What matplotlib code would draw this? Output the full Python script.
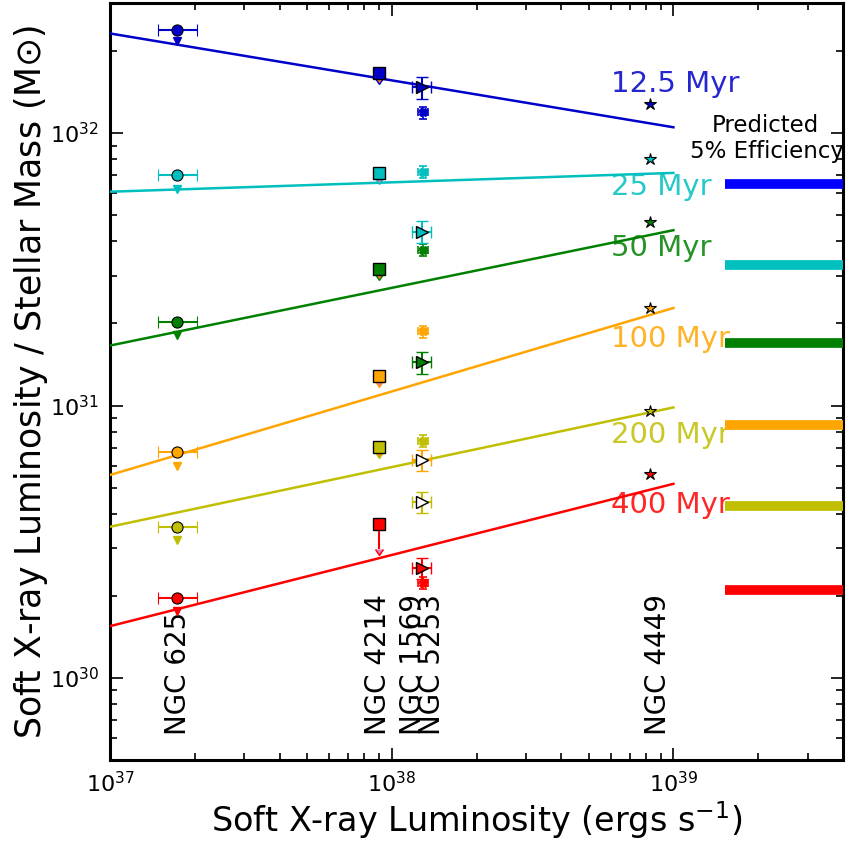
import numpy as np
import matplotlib
matplotlib.use("Agg")
import matplotlib.pyplot as plt

# Starburst ages and their colours
ages = ['12.5 Myr', '25 Myr', '50 Myr', '100 Myr', '200 Myr', '400 Myr']
colors = ['#0000c8', '#00bfbf', '#008000', '#ffa500', '#bfbf00', '#ff0000']
bar_colors = ['#0000ff', '#00bfbf', '#008000', '#ffa500', '#bfbf00', '#ff0000']

# Soft X-ray luminosities of the galaxies (erg/s)
lx_625 = 1.73e37
lx_625_err = [[0.25e37], [0.30e37]]
lx_4214 = 9.0e37
lx_1569 = 1.29e38
lx_5253 = 1.28e38
lx_5253_err = 0.10e38
lx_4449 = 8.26e38

# L_X / M_* for each age (rows follow `ages`)
ngc625 = [2.38e32, 7.0e31, 2.03e31, 6.73e30, 3.59e30, 1.96e30]
ngc625_low = [2.17e32, 6.25e31, 1.82e31, 6.0e30, 3.21e30, 1.76e30]
ngc4214 = [1.66e32, 7.14e31, 3.17e31, 1.28e31, 7.03e30, 3.67e30]
ngc4214_lim = [0.04, 0.04, 0.04, 0.04, 0.04, 0.19]
ngc1569 = [1.19e32, 7.2e31, 3.72e31, 1.87e31, 7.43e30, 2.24e30]
ngc5253 = [1.47e32, 4.35e31, 1.44e31, 6.3e30, 4.43e30, 2.53e30]
ngc5253_filled = [True, True, True, False, False, True]
ngc4449 = [1.28e32, 8.0e31, 4.72e31, 2.28e31, 9.57e30, 5.61e30]

# Power-law fits, evaluated at the ends of the fit range
fit_x = [1e37, 1e39]
fit_lo = [2.32e32, 6.09e31, 1.66e31, 5.56e30, 3.59e30, 1.55e30]
fit_hi = [1.05e32, 7.14e31, 4.4e31, 2.28e31, 9.84e30, 5.16e30]

# Predicted values at 5% efficiency
eff5 = [6.5e31, 3.27e31, 1.7e31, 8.45e30, 4.28e30, 2.11e30]
eff5_x = [1.53e39, 4e39]

# Age label positions
age_label_x = 6.0e38
age_label_y = [1.51e32, 6.35e31, 3.77e31, 1.76e31, 7.77e30, 4.3e30]

# Galaxy names
gal_names = ['NGC 625', 'NGC 4214', 'NGC 1569', 'NGC 5253', 'NGC 4449']
gal_label_x = [1.75e37, 8.96e37, 1.19e38, 1.39e38, 8.85e38]
gal_label_y = 6.2e29

fig = plt.figure(figsize=(8.47, 8.44), dpi=100)
ax = fig.add_axes([0.1299, 0.0995, 0.8654, 0.8969])
ax.set_xscale('log')
ax.set_yscale('log')

for i, c in enumerate(colors):
    # fit line
    ax.plot(fit_x, [fit_lo[i], fit_hi[i]], color=c, lw=1.8, zorder=3)
    # NGC 625
    ax.errorbar([lx_625], [ngc625[i]], xerr=lx_625_err, fmt='o', ms=8,
                mfc=c, mec='k', mew=0.8, ecolor=c, elinewidth=1.5,
                capsize=4, capthick=1.5, zorder=5)
    ax.plot([lx_625], [ngc625_low[i]], 'v', ms=6, color=c, mec=c, zorder=4)
    # NGC 4214 (upper limits)
    ax.errorbar([lx_4214], [ngc4214[i]], yerr=[[ngc4214[i] * ngc4214_lim[i]], [0]],
                uplims=True, fmt='s', ms=9, mfc=c, mec='k', mew=1.0,
                ecolor=c, elinewidth=1.5, capsize=3, zorder=5)
    # NGC 1569
    ax.errorbar([lx_1569], [ngc1569[i]], xerr=0.04 * lx_1569,
                yerr=0.05 * ngc1569[i], fmt='X', ms=6, mfc=c, mec=c,
                ecolor=c, elinewidth=1.2, capsize=3, capthick=1.2, zorder=5)
    # NGC 5253
    face = c if ngc5253_filled[i] else 'white'
    ax.errorbar([lx_5253], [ngc5253[i]], xerr=lx_5253_err,
                yerr=0.09 * ngc5253[i], fmt='>', ms=8, mfc=face, mec='k',
                mew=1.0, ecolor=c, elinewidth=1.5, capsize=4, capthick=1.5,
                zorder=6)
    # NGC 4449
    ax.plot([lx_4449], [ngc4449[i]], '*', ms=9, mfc=c, mec='k', mew=0.8,
            zorder=5)
    # predicted 5% efficiency
    ax.plot(eff5_x, [eff5[i], eff5[i]], color=bar_colors[i], lw=7,
            solid_capstyle='butt', zorder=4)
    # age label
    ax.text(age_label_x, age_label_y[i], ages[i], color=c, alpha=0.85,
            fontsize=21, ha='left', va='center', zorder=2)

ax.text(2.12e39, 1.07e32, 'Predicted', fontsize=16.5, ha='center', va='center')
ax.text(2.15e39, 8.55e31, '5% Efficiency', fontsize=16.5, ha='center',
        va='center')

for name, xg in zip(gal_names, gal_label_x):
    ax.text(xg, gal_label_y, name, rotation=90, fontsize=20, ha='center',
            va='bottom', zorder=1)

ax.set_xlim(1e37, 4e39)
ax.set_ylim(5e29, 3e32)

ax.tick_params(which='both', direction='in', top=True, right=True,
               labelsize=16, width=1.2)
ax.tick_params(which='major', length=9, pad=8)
ax.tick_params(which='minor', length=5)
for s in ax.spines.values():
    s.set_linewidth(2.2)

ax.set_xlabel(r'Soft X-ray Luminosity (ergs s$^{-1}$)', fontsize=24, labelpad=2)
ax.set_ylabel(r'Soft X-ray Luminosity / Stellar Mass (M$\odot$)', fontsize=25,
              labelpad=0)

fig.savefig('out.png', dpi=100)
